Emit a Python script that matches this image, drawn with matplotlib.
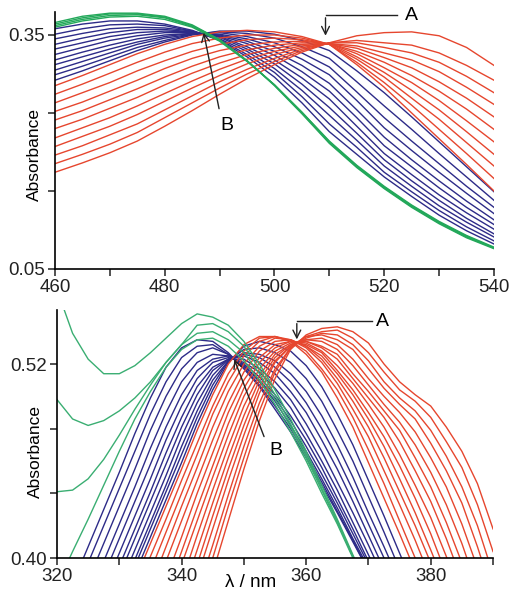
import numpy as np
import matplotlib
matplotlib.use("Agg")
import matplotlib.pyplot as plt
from matplotlib.ticker import FixedLocator, FixedFormatter

plt.rcParams['font.family'] = ['Liberation Sans', 'DejaVu Sans']

_ = None

# ---------------- top panel data (visible band) ----------------
top_wl = [460, 465, 470, 475, 480, 485, 490, 495, 500, 505, 510, 515, 520, 525, 530, 535, 540]

top_red = [
    [.174, .186, .199, .214, .233, .253, .274, .294, .312, .328, .340, .349, .353, .354, .349, .334, .311],
    [.185, .197, .210, .225, .244, .263, .282, .300, .316, .330, .340, .343, .340, .337, .327, .311, .292],
    [.196, .208, .222, .236, .254, .272, .290, .306, .320, .332, .340, .340, .334, .327, .315, .297, .276],
    [.207, .220, .233, .248, .265, .282, .298, .313, .325, .334, .339, .336, .327, .318, .303, .283, .261],
    [.218, .231, .244, .259, .275, .291, .306, .319, .329, .336, .339, .333, .321, .308, .290, .269, .245],
    [.230, .242, .256, .270, .286, .301, .314, .325, .333, .338, .339, .329, .315, .298, .278, .255, .229],
    [.241, .253, .267, .281, .296, .310, .322, .331, .337, .340, .339, .326, .308, .289, .266, .240, .213],
    [.252, .264, .278, .292, .307, .320, .330, .337, .341, .342, .339, .322, .302, .279, .254, .226, .197],
    [.263, .276, .289, .304, .317, .329, .338, .344, .346, .344, .338, .319, .296, .269, .242, .212, .182],
    [.274, .287, .301, .315, .328, .339, .346, .350, .350, .346, .338, .315, .289, .260, .229, .198, .166],
    [.285, .298, .312, .326, .338, .348, .354, .356, .354, .348, .338, .312, .283, .250, .217, .184, .150],
]

top_blue = [
    [.292, .304, .317, .330, .341, .350, .355, .355, .351, .343, .330, .304, .276, .245, .213, .181, .149],
    [.299, .310, .322, .334, .343, .351, .354, .352, .346, .335, .320, .290, .259, .229, .198, .168, .138],
    [.305, .316, .327, .338, .346, .351, .353, .348, .340, .327, .309, .277, .244, .214, .185, .156, .129],
    [.312, .322, .332, .341, .348, .352, .351, .345, .335, .319, .299, .266, .231, .202, .174, .147, .121],
    [.318, .328, .337, .345, .350, .352, .350, .342, .329, .311, .288, .254, .219, .190, .163, .137, .113],
    [.325, .334, .343, .349, .353, .353, .349, .339, .324, .303, .278, .244, .208, .181, .154, .129, .107],
    [.332, .340, .348, .353, .355, .354, .348, .335, .318, .295, .268, .233, .198, .171, .145, .122, .101],
    [.338, .346, .353, .357, .357, .354, .347, .332, .313, .287, .257, .224, .190, .163, .138, .115, .095],
    [.345, .352, .358, .360, .359, .355, .345, .329, .307, .279, .247, .215, .182, .156, .131, .110, .091],
    [.351, .358, .363, .364, .362, .355, .344, .325, .302, .271, .236, .206, .174, .149, .125, .104, .086],
    [.358, .364, .368, .368, .364, .356, .343, .322, .296, .263, .226, .197, .168, .143, .119, .099, .082],
]

top_green = [
    [.360, .368, .373, .374, .370, .360, .342, .316, .286, .251, .214, .183, .156, .132, .111, .093, .078],
    [.362, .370, .375, .376, .372, .361, .343, .317, .286, .251, .213, .182, .155, .131, .110, .092, .077],
    [.364, .372, .377, .377, .373, .362, .344, .317, .286, .250, .212, .181, .154, .130, .109, .091, .077],
    [.366, .374, .378, .378, .374, .363, .344, .317, .285, .249, .211, .180, .153, .129, .108, .090, .076],
]

# ---------------- bottom panel data (UV band) ----------------
bot_wl = [320.0, 322.5, 325.0, 327.5, 330.0, 332.5, 335.0, 337.5, 340.0, 342.5,
          345.0, 347.5, 350.0, 352.5, 355.0, 357.5, 360.0, 362.5, 365.0, 367.5,
          370.0, 372.5, 375.0, 377.5, 380.0, 382.5, 385.0, 387.5, 390.0]

bot_red = [
    [_, _, _, _, _, _, _, _, _, _, .391, .423, .455, .485, .511, .529, .538, .542, .543, .540, .533, .520, .509, .501, .494, .481, .466, .446, .418],
    [_, _, _, _, _, _, _, _, _, .368, .400, .432, .462, .491, .515, .530, .537, .540, .541, .536, .527, .515, .504, .497, .487, .472, .456, .433, .404],
    [_, _, _, _, _, _, _, _, _, .378, .408, .439, .469, .496, .517, .530, .536, .539, .538, .532, .522, .509, .499, .491, .479, .463, .444, .420, .390],
    [_, _, _, _, _, _, _, _, _, .388, .418, .448, .476, .502, .521, .531, .537, .538, .535, .529, .517, .505, .495, .486, .471, .454, .434, .407, .377],
    [_, _, _, _, _, _, _, _, .366, .396, .426, .455, .482, .506, .522, .531, .535, .536, .532, .523, .511, .500, .490, .478, .462, .444, .421, .394, .363],
    [_, _, _, _, _, _, _, _, .376, .405, .434, .462, .488, .510, .524, .532, .535, .534, .529, .519, .507, .495, .484, .470, .453, .433, .409, .381, _],
    [_, _, _, _, _, _, _, _, .385, .414, .442, .469, .494, .513, .526, .532, .534, .531, .526, .514, .503, .491, .479, .462, .444, .422, .397, .368, _],
    [_, _, _, _, _, _, _, .368, .396, .423, .450, .476, .500, .517, .528, .533, .534, .530, .523, .511, .499, .487, .472, .454, .435, .412, .386, _, _],
    [_, _, _, _, _, _, _, .377, .404, .431, .457, .483, .505, .521, .530, .534, .533, .528, .519, .508, .495, .481, .464, .445, .425, .401, .375, _, _],
    [_, _, _, _, _, _, _, .387, .413, .440, .465, .490, .510, .524, .532, .534, .532, .527, .516, .504, .490, .475, .457, .437, .415, .390, _, _, _],
    [_, _, _, _, _, _, .372, .398, .423, .448, .473, .496, .515, .528, .534, .535, .531, .525, .514, .501, .486, .469, .449, .428, .405, .381, _, _, _],
    [_, _, _, _, _, _, .382, .407, .432, .456, .481, .503, .520, .531, .536, .535, .531, .523, .511, .497, .481, .462, .441, .420, .397, .372, _, _, _],
    [_, _, _, _, _, _, .392, .416, .440, .464, .489, .509, .525, .534, .537, .535, .530, .521, .508, .492, .475, .454, .433, .411, .387, _, _, _, _],
    [_, _, _, _, _, .377, .401, .424, .448, .471, .494, .514, .528, .536, .537, .534, .528, .517, .504, .487, .467, .446, .423, .400, .378, _, _, _, _],
    [_, _, _, _, _, .386, .409, .432, .455, .479, .501, .520, .532, .537, .537, .534, .526, .515, .499, .481, .459, .437, .415, .392, _, _, _, _, _],
]

bot_blue = [
    [_, _, _, _, _, .390, .413, .436, .459, .483, .504, .521, .531, .534, .532, .528, .519, .506, .489, .470, .448, .426, .403, .380, _, _, _, _, _],
    [_, _, _, _, .372, .395, .418, .441, .464, .487, .507, .522, .529, .530, .527, .521, .511, .497, .479, .460, .438, .416, .393, _, _, _, _, _, _],
    [_, _, _, _, .376, .399, .422, .445, .469, .491, .510, .522, .527, .526, .522, .514, .503, .488, .470, .450, .428, .407, .385, _, _, _, _, _, _],
    [_, _, _, _, .382, .405, .428, .451, .475, .496, .513, .523, .526, .524, .518, .509, .496, .480, .462, .442, .421, .400, .378, _, _, _, _, _, _],
    [_, _, _, .366, .389, .412, .435, .458, .481, .501, .516, .523, .525, .521, .514, .503, .490, .473, .455, .435, .414, .393, _, _, _, _, _, _, _],
    [_, _, _, .372, .395, .418, .441, .465, .487, .506, .518, .523, .523, .517, .509, .498, .483, .466, .447, .428, .408, .387, _, _, _, _, _, _, _],
    [_, _, _, .380, .403, .426, .449, .473, .494, .511, .521, .524, .521, .515, .505, .493, .477, .460, .442, .422, .402, .382, _, _, _, _, _, _, _],
    [_, _, .366, .389, .412, .435, .458, .481, .501, .516, .523, .525, .520, .512, .501, .488, .473, .456, .437, .418, .398, _, _, _, _, _, _, _, _],
    [_, _, .375, .398, .421, .444, .468, .490, .509, .521, .526, .525, .519, .510, .499, .485, .469, .452, .434, .415, .396, _, _, _, _, _, _, _, _],
    [_, _, .386, .409, .432, .455, .479, .500, .517, .527, .530, .526, .519, .509, .497, .482, .466, .449, .431, .412, .394, _, _, _, _, _, _, _, _],
    [_, .374, .397, .420, .443, .466, .489, .509, .524, .531, .532, .526, .518, .507, .494, .480, .464, .447, .429, .411, .392, _, _, _, _, _, _, _, _],
    [_, .384, .407, .430, .453, .477, .499, .518, .530, .535, .534, .527, .517, .506, .492, .478, .462, .445, .428, .410, .392, _, _, _, _, _, _, _, _],
]

bot_green = [
    [.383, .404, .424, .445, .466, .486, .503, .518, .529, .535, .536, .531, .522, .510, .495, .478, .460, .440, .421, .400, .378, _, _, _, _, _, _, _, _],
    [.441, .442, .449, .461, .476, .492, .507, .521, .532, .539, .540, .535, .527, .514, .498, .481, .462, .442, .422, .401, .379, _, _, _, _, _, _, _, _],
    [.498, .486, .482, .485, .491, .499, .509, .521, .532, .544, .545, .540, .531, .517, .501, .483, .464, .443, .423, .401, .379, _, _, _, _, _, _, _, _],
    [.566, .539, .523, .514, .514, .519, .527, .536, .545, .551, .549, .544, .534, .520, .504, .486, .466, .445, .424, .402, .380, _, _, _, _, _, _, _, _],
]

# ticks
top_xmajor = [460, 480, 500, 520, 540]
top_xminor = [470, 490, 510, 530]
top_yticks = [0.05, 0.15, 0.25, 0.35]
top_ylabels = ['0.05', '', '', '0.35']
bot_xmajor = [320, 340, 360, 380]
bot_xminor = [330, 350, 370, 390]
bot_yticks = [0.40, 0.44, 0.48, 0.52]
bot_ylabels = ['0.40', '', '', '0.52']

RED = '#e6462e'
BLUE = '#2d2b88'
GREEN_T = '#23a85a'
GREEN_B = '#3aae72'

fig = plt.figure(figsize=(5.09, 5.93), dpi=100)
ax1 = fig.add_axes([0.108, 0.5464, 0.8625, 0.4334])
ax2 = fig.add_axes([0.112, 0.059, 0.8566, 0.4182])


def to_arr(rows):
    return [np.array(r, dtype=float) for r in rows]


LW = 1.0
for r in to_arr(top_blue):
    ax1.plot(top_wl, r, color=BLUE, lw=LW)
for r in to_arr(top_red):
    ax1.plot(top_wl, r, color=RED, lw=LW)
for r in to_arr(top_green):
    ax1.plot(top_wl, r, color=GREEN_T, lw=LW)

for r in to_arr(bot_blue):
    ax2.plot(bot_wl, r, color=BLUE, lw=LW)
for r in to_arr(bot_red):
    ax2.plot(bot_wl, r, color=RED, lw=LW)
for r in to_arr(bot_green):
    ax2.plot(bot_wl, r, color=GREEN_B, lw=LW)

ax1.set_xlim(460, 540)
ax1.set_ylim(0.05, 0.3795)
ax2.set_xlim(320, 390)
ax2.set_ylim(0.40, 0.5534)

for ax, xmaj, xmin, yt, yl in [(ax1, top_xmajor, top_xminor, top_yticks, top_ylabels),
                               (ax2, bot_xmajor, bot_xminor, bot_yticks, bot_ylabels)]:
    ax.spines['top'].set_visible(False)
    ax.spines['right'].set_visible(False)
    ax.spines['left'].set_linewidth(1.2)
    ax.spines['bottom'].set_linewidth(1.2)
    ax.xaxis.set_major_locator(FixedLocator(xmaj))
    ax.xaxis.set_minor_locator(FixedLocator(xmin))
    ax.yaxis.set_major_locator(FixedLocator(yt))
    ax.yaxis.set_major_formatter(FixedFormatter(yl))
    ax.tick_params(axis='both', which='both', direction='out', length=5, width=1.1,
                   labelsize=13.5, pad=2.5, colors='#222222')
    ax.tick_params(axis='x', which='minor', length=5)
    ax.set_ylabel('Absorbance', fontsize=12.5, va='center')

ax1.yaxis.set_label_coords(-0.046, 0.447)
ax2.yaxis.set_label_coords(-0.050, 0.431)

ax2.set_xlabel('λ / nm', fontsize=13.5, va='center')
ax2.xaxis.set_label_coords(0.445, -0.098)

# annotations, top
ak = dict(arrowstyle='->', lw=1.0, color='#222222', mutation_scale=14)
ax1.plot([522.4, 509.3], [0.3756, 0.3756], color='#222222', lw=1.0)
ax1.annotate('', xy=(509.3, 0.3455), xytext=(509.3, 0.3756), arrowprops=ak)
ax1.text(525.0, 0.3745, 'A', fontsize=14, ha='center', va='center')
ax1.annotate('', xy=(487.0, 0.3565), xytext=(490.0, 0.252), arrowprops=ak)
ax1.text(491.3, 0.2335, 'B', fontsize=14, ha='center', va='center')

# annotations, bottom
ax2.plot([370.5, 358.5], [0.5467, 0.5467], color='#222222', lw=1.0)
ax2.annotate('', xy=(358.5, 0.5335), xytext=(358.5, 0.5467), arrowprops=ak)
ax2.text(372.2, 0.5461, 'A', fontsize=14, ha='center', va='center')
ax2.annotate('', xy=(348.3, 0.5245), xytext=(353.4, 0.4735), arrowprops=ak)
ax2.text(355.1, 0.4665, 'B', fontsize=14, ha='center', va='center')

fig.savefig('out.png', dpi=100)
